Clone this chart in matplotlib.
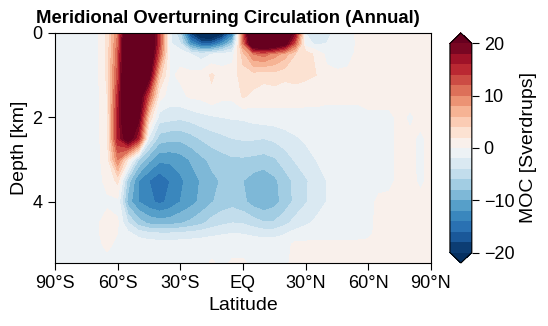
import numpy as np
import matplotlib
matplotlib.use('Agg')
import matplotlib.pyplot as plt

plt.rcParams['font.family'] = ['Liberation Sans', 'DejaVu Sans']

# latitude nodes (deg) and depth nodes (km)
lat = np.arange(-90, 91, 5)
depth = [0.0, 0.25, 0.5, 1.0, 1.5, 2.0, 2.5, 3.0, 3.5, 4.0, 4.5, 4.75, 5.0, 5.5]

# MOC [Sv], one row per depth, lat -90 .. 90
moc_d000 = [-0.6, -0.6, -0.6, -0.6, -0.6, 2.5, 10, 28, 32, 27, 14, -1, -6,
            -19, -25, -26, -22, -14, 12, 30, 32, 30, 26, 18, -2, -3.5, -2.5,
            -1.5, -1, 0.5, 0.8, 0.8, 0.8, 0.8, 0.8, 0.8, 0.5]
moc_d025 = [-0.6, -0.6, -0.6, -0.6, -0.6, 2.5, 11, 30, 32, 27, 14, -1.5, -4,
            -12, -16, -16, -12, -7, 10, 26, 28, 26, 22, 12, -1, -2.5, -2,
            -1.5, -1, 0.3, 0.8, 0.8, 0.8, 0.8, 0.8, 0.8, 0.5]
moc_d050 = [-0.6, -0.6, -0.6, -0.6, -0.6, 2.5, 12, 30, 32, 26, 12, -0.8, -0.5,
            -2, -3, -2, -1.5, -0.8, 5, 10, 11, 9, 7, 4, 3, 1.5, -0.5,
            -0.8, -0.5, 0.3, 0.8, 0.8, 0.8, 0.8, 0.8, 0.8, 0.5]
moc_d100 = [-0.6, -0.6, -0.6, -0.6, -0.6, 2.5, 13, 30, 30, 22, 5, -0.3, 0.3,
            0.5, 0.8, 2.3, 1, 1, 3, 3, 2.5, 3, 2.5, 3, 2.5, 2, 0.5,
            0.3, 0.3, 0.5, 0.8, 0.8, 0.8, 0.8, 0.8, 0.8, 0.5]
moc_d150 = [-0.6, -0.6, -0.6, -0.6, -0.6, 2, 15, 30, 24, 12, 0.8, -0.8, -0.5,
            0.3, 0.5, 1.5, 0.5, 0.5, 2.2, 1.5, 1.2, 1, 0.8, 0.6, 0.5, 0.5, 0.3,
            0.3, 0.3, 0.3, 0.5, 0.5, 0.5, 0.5, 0.5, 0.5, 0.5]
moc_d200 = [-0.6, -0.6, -0.6, -0.6, -0.6, 1.5, 16, 28, 21, 4, -3, -3.3, -3.6,
            -3.2, -2.6, -2.3, -2, -1.8, -1.7, -1.3, -1, -0.9, -0.7, -0.5, -0.5, -0.5, -0.5,
            -0.5, -0.5, -0.5, -0.3, -0.3, -0.3, 0.3, -0.2, 0.3, 0.3]
moc_d250 = [-0.6, -0.6, -0.6, -0.6, -0.6, 1.5, 16, 23, 16, -2.5, -7, -7.5, -7.5,
            -6.8, -5.8, -5, -4.5, -4, -3.8, -3.8, -4, -3.6, -3, -2.3, -1.7, -1.3, -1,
            -0.8, -0.5, -0.5, -0.5, -0.5, -0.3, 0.3, 0.2, -0.2, 0.3]
moc_d300 = [-0.6, -0.6, -0.6, -0.6, -0.6, 1, 10, 2, -6, -9.5, -11.5, -11.5, -11,
            -9.8, -8.5, -7.5, -6.8, -6.3, -6.3, -6.5, -6.8, -6.3, -5, -3.8, -2.8, -2, -1.3,
            -0.8, -0.5, -0.5, -0.5, -0.5, -0.3, 0.3, 0.2, -0.2, 0.3]
moc_d350 = [-0.6, -0.6, -0.6, -0.6, -0.6, 0.5, 2.5, -7, -12, -14, -15.5, -14, -12.5,
            -11, -9.8, -8.5, -7.8, -7.5, -8, -9, -9.5, -8.5, -7, -5.5, -4.3, -3, -2,
            -1.2, -0.5, -0.5, -0.5, -0.5, -0.3, 0.3, 0.3, -0.2, 0.3]
moc_d400 = [-0.6, -0.6, -0.6, -0.6, -0.6, -0.3, -0.5, -9, -12, -13.5, -14.5, -13.5, -12,
            -10.8, -9.5, -8.2, -7.2, -6.8, -7.5, -9, -9.6, -8.8, -7.2, -5.5, -4.2, -3, -2,
            -1.2, -0.5, -0.5, -0.5, 0.3, 0.3, 0.3, 0.3, 0.3, 0.3]
moc_d450 = [-0.6, -0.6, -0.6, -0.6, -0.2, 0.6, 0.2, -4, -7, -8.5, -9, -8.8, -8.2,
            -7.5, -6.5, -5.2, -4.5, -4, -4.2, -5, -5.8, -5.8, -4.6, -3.3, -2.4, -1.6, -1.1,
            -0.6, -0.5, -0.5, -0.4, 0.4, 0.4, 0.4, 0.4, 0.4, 0.3]
moc_d475 = [-0.6, -0.6, -0.6, -0.6, -0.2, 0.6, 0, -1.5, -2.8, -3.5, -3.8, -3.8, -3.6,
            -3.3, -3, -2.5, -2.2, -2, -2.1, -2.5, -2.8, -2.8, -2.2, -1.2, -0.8, -0.6, -0.5,
            -0.5, -0.5, -0.5, -0.3, 0.4, 0.4, 0.4, 0.4, 0.4, 0.3]
moc_d500 = [-0.6, -0.6, -0.6, -0.6, -0.3, 0.3, -0.3, -0.6, -0.8, -1, -1, -1, -1,
            -0.9, -0.8, -0.8, -0.8, -0.6, -0.6, -0.8, -0.8, -0.8, -0.5, 0.3, 0.3, 0.3, 0.3,
            0.3, 0.3, 0.3, 0.3, 0.4, 0.4, 0.4, 0.4, 0.4, 0.3]
moc_d550 = [-0.5, -0.5, -0.5, -0.5, -0.5, -0.5, -0.5, -0.5, -0.5, -0.5, -0.5, -0.5, -0.5,
            -0.5, -0.5, 0.3, -0.3, 0.3, 0.3, -0.3, -0.3, -0.3, -0.3, 0.5, 0.5, 0.5, 0.5,
            0.5, 0.5, 0.5, 0.5, 0.5, 0.5, 0.5, 0.5, 0.5, 0.5]

moc = np.array([moc_d000, moc_d025, moc_d050, moc_d100, moc_d150, moc_d200, moc_d250,
                moc_d300, moc_d350, moc_d400, moc_d450, moc_d475, moc_d500, moc_d550])

lat_ticks = [-90, -60, -30, 0, 30, 60, 90]
lat_labels = ['90°S', '60°S', '30°S', 'EQ', '30°N', '60°N', '90°N']
levels = np.arange(-20, 21, 2)
cbar_ticks = [-20, -10, 0, 10, 20]

fig = plt.figure(figsize=(5.48, 3.26), dpi=100)
ax = fig.add_axes([0.1004, 0.1933, 0.686, 0.7055])
cf = ax.contourf(lat, depth, moc, levels=levels, cmap='RdBu_r', extend='both')
ax.set_xlim(-90, 90)
ax.set_ylim(5.45, 0)
ax.set_xticks(lat_ticks)
ax.set_xticklabels(lat_labels)
ax.set_yticks([0, 2, 4])
ax.tick_params(labelsize=13, length=5, pad=4)
ax.set_xlabel('Latitude', fontsize=14, labelpad=3)
ax.set_ylabel('Depth [km]', fontsize=14, labelpad=3)
ax.set_title('Meridional Overturning Circulation (Annual)', fontsize=13.3,
             fontweight='bold', pad=7, x=0.46)

cax = fig.add_axes([0.821, 0.1933, 0.040, 0.7055])
cb = fig.colorbar(cf, cax=cax, ticks=cbar_ticks)
cb.ax.tick_params(labelsize=13, length=5)
cb.set_label('MOC [Sverdrups]', fontsize=14, labelpad=4)

fig.savefig('out.png', dpi=100)
